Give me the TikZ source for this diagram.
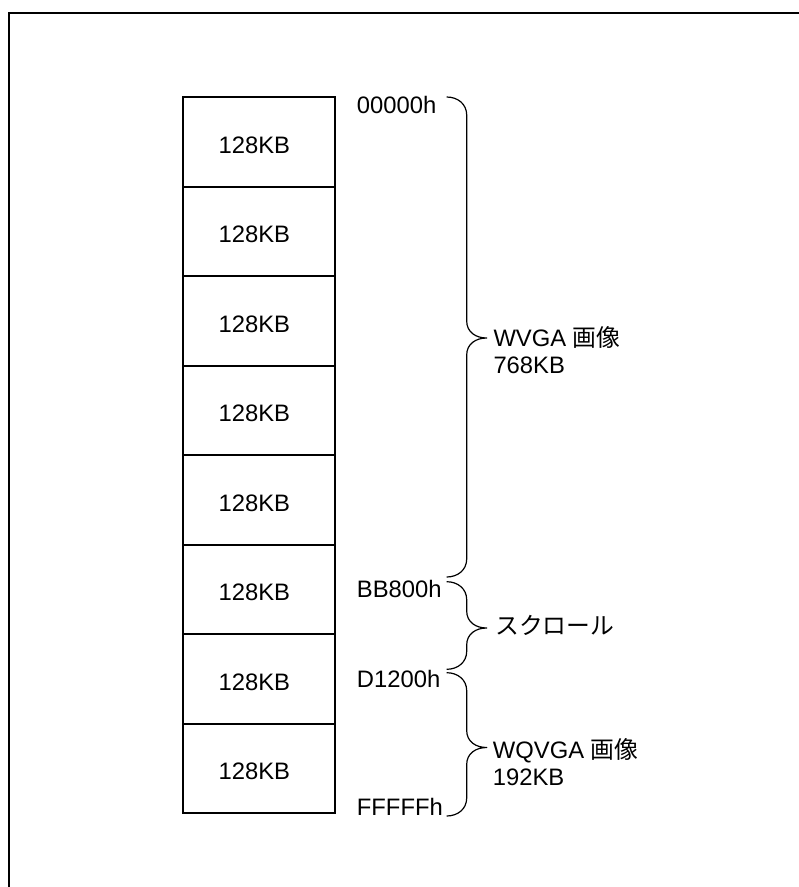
\documentclass[tikz,border=0pt]{standalone}
\usepackage{fontspec}
\setmainfont{Liberation Sans}
\newfontfamily\jp{Noto Sans CJK JP}
\begin{document}
\begin{tikzpicture}[x=1pt,y=-1pt,
  every node/.style={inner sep=0pt, font=\fontsize{23.8}{27}\selectfont},
  membox/.style={draw, line width=2pt, minimum width=152pt, minimum height=89.5pt},
  addr/.style={anchor=base west},
  lbl/.style={anchor=base west},
  bracel/.style={line width=1.2pt, line join=round}
]
\useasboundingbox (0,0) rectangle (799,887);
% frame (left and top only visible)
\draw[line width=2pt] (8.5,887) -- (8.5,13) -- (799,13);
% memory boxes
\foreach \i in {1,...,8} {
  \node[membox, label={[xshift=-4.7pt,yshift=-3.2pt]center:128KB}] (m\i) at (259, {97+89.5*(\i-0.5)}) {};
}
% addresses
\node[addr] (a0) at (356.7,113) {00000h};
\node[addr] (a1) at (356.7,597) {BB800h};
\node[addr] (a2) at (356.7,687.7) {D1200h};
\node[addr] (a3) at (356.7,815) {FFFFFh};
% braces
\newcommand\membrace[4]{% name, top, bottom, tip
  \coordinate (#1t) at (446.7,#2);
  \coordinate (#1b) at (446.7,#3);
  \coordinate (#1m) at (486.7,#4);
  \draw[bracel] (#1t) .. controls +(11,0) and +(0,-11) .. ++(20,18)
    -- (466.7,#4-17) .. controls +(0,11) and +(-11,0) .. (#1m)
    .. controls +(-11,0) and +(0,-11) .. (466.7,#4+17)
    -- (466.7,#3-18) .. controls +(0,11) and +(11,0) .. (#1b);
}
\membrace{bw}{97}{577}{338}
\membrace{bs}{581.7}{669.3}{628}
\membrace{bq}{672.7}{816}{747.5}
% labels
\node[lbl] (l1) at (493.3,346.5) {WVGA {\jp 画像}};
\node[lbl] (l2) at (493.3,373) {768KB};
\node[anchor=west] (l3) at (495,625) {\jp スクロール};
\node[lbl] (l4) at (492.7,758.3) {WQVGA {\jp 画像}};
\node[lbl] (l5) at (492.7,785) {192KB};
\end{tikzpicture}
\end{document}
